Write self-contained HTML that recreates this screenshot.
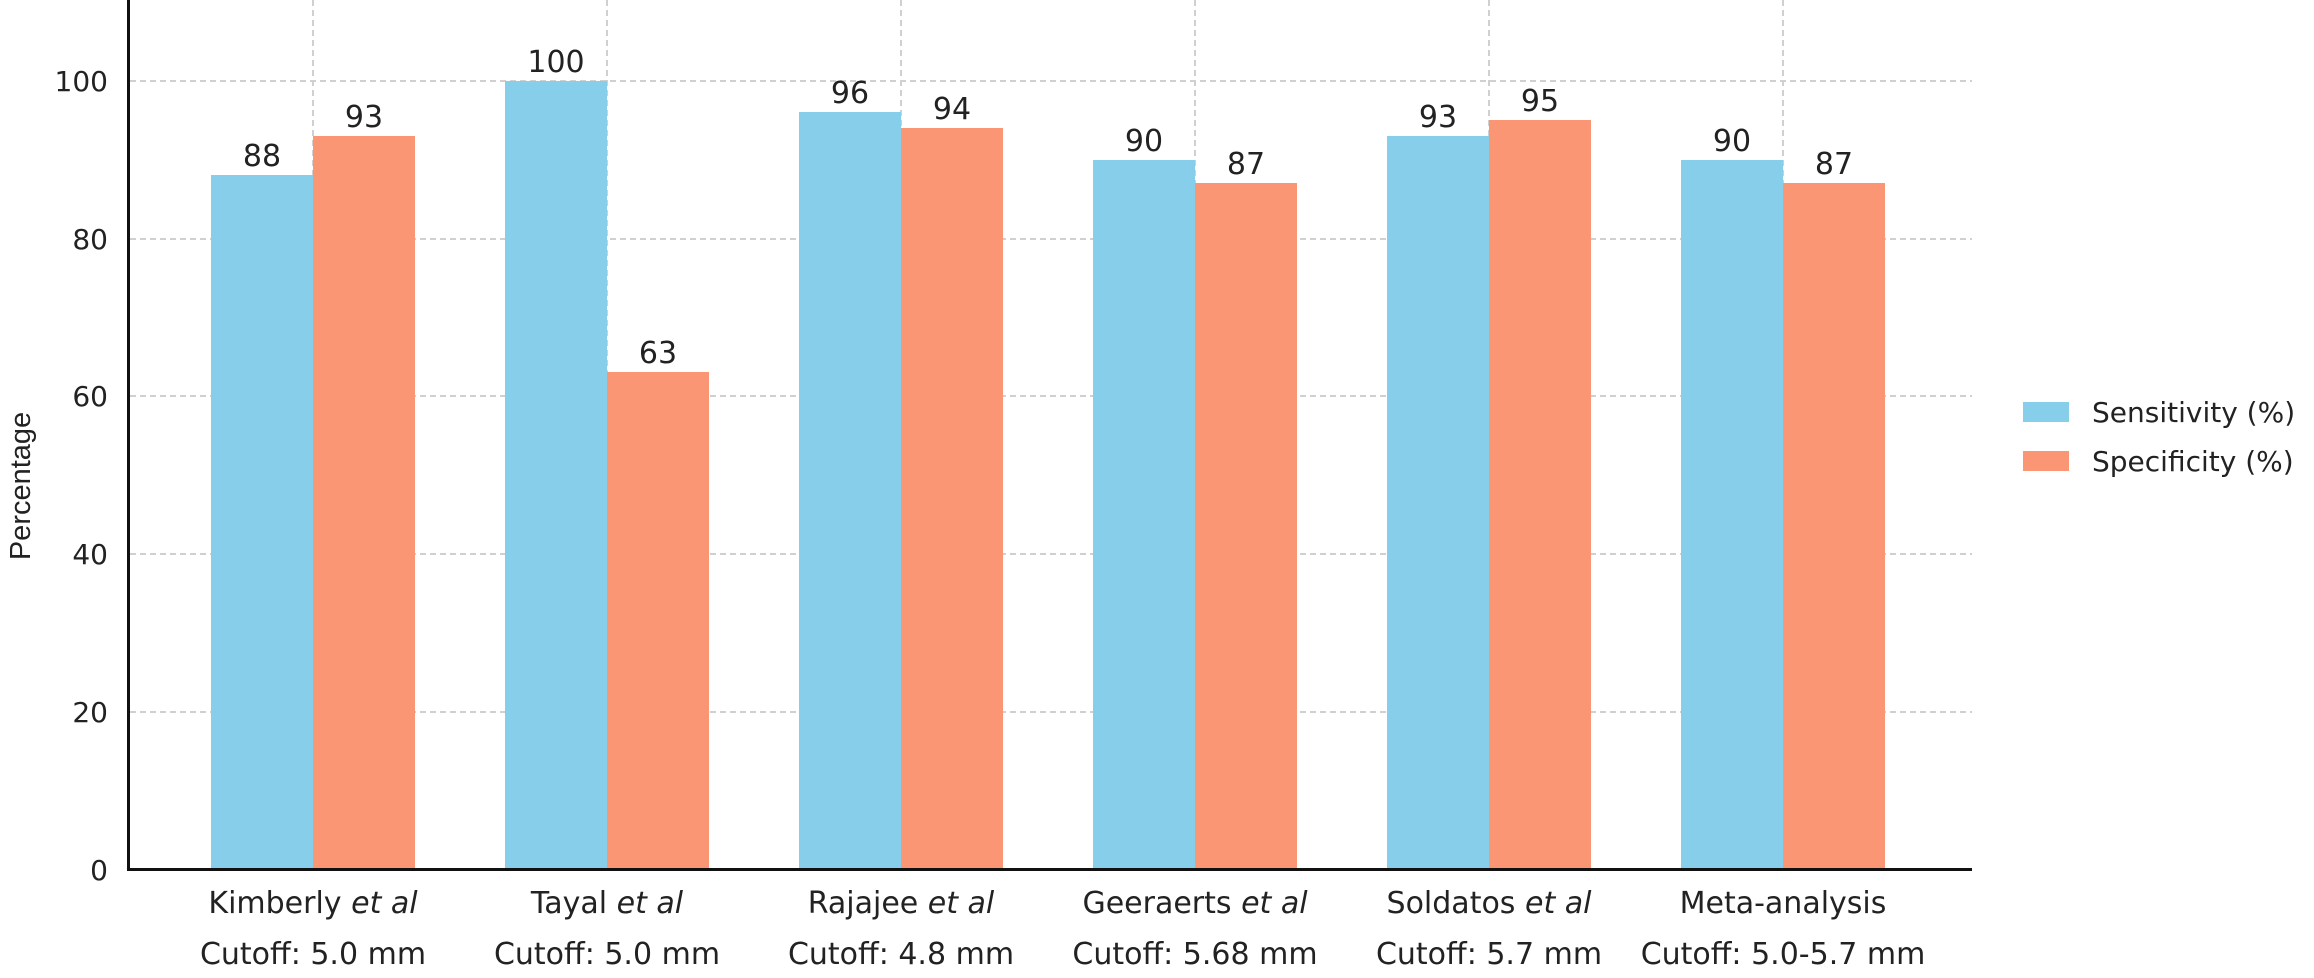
<!DOCTYPE html>
<html><head><meta charset="utf-8"><style>
html,body{margin:0;padding:0;background:#fff;}
svg text{font-family:"DejaVu Sans","Liberation Sans",sans-serif;fill:#222;}
</style></head><body>
<svg width="2314" height="973" viewBox="0 0 2314 973" xmlns="http://www.w3.org/2000/svg">
<g stroke="#d0d0d0" stroke-width="2" stroke-dasharray="6,4">
<line x1="130" y1="712" x2="1972" y2="712"/>
<line x1="130" y1="554" x2="1972" y2="554"/>
<line x1="130" y1="396" x2="1972" y2="396"/>
<line x1="130" y1="239" x2="1972" y2="239"/>
<line x1="130" y1="81" x2="1972" y2="81"/>
<line x1="313" y1="0" x2="313" y2="869"/>
<line x1="607" y1="0" x2="607" y2="869"/>
<line x1="901" y1="0" x2="901" y2="869"/>
<line x1="1195" y1="0" x2="1195" y2="869"/>
<line x1="1489" y1="0" x2="1489" y2="869"/>
<line x1="1783" y1="0" x2="1783" y2="869"/>
</g>
<g fill="#87ceeb">
<rect x="211" y="175" width="102" height="694"/>
<rect x="505" y="81" width="102" height="788"/>
<rect x="799" y="112" width="102" height="757"/>
<rect x="1093" y="160" width="102" height="709"/>
<rect x="1387" y="136" width="102" height="733"/>
<rect x="1681" y="160" width="102" height="709"/>
</g>
<g fill="#fa9673">
<rect x="313" y="136" width="102" height="733"/>
<rect x="607" y="372" width="102" height="497"/>
<rect x="901" y="128" width="102" height="741"/>
<rect x="1195" y="183" width="102" height="686"/>
<rect x="1489" y="120" width="102" height="749"/>
<rect x="1783" y="183" width="102" height="686"/>
</g>
<line x1="128.5" y1="0" x2="128.5" y2="870" stroke="#111" stroke-width="3"/>
<line x1="127" y1="869.5" x2="1972" y2="869.5" stroke="#111" stroke-width="3"/>
<g font-size="30" text-anchor="middle">
<text x="262" y="166">88</text><text x="364" y="127">93</text>
<text x="556" y="72">100</text><text x="658" y="363">63</text>
<text x="850" y="103">96</text><text x="952" y="119">94</text>
<text x="1144" y="151">90</text><text x="1246" y="174">87</text>
<text x="1438" y="127">93</text><text x="1540" y="111">95</text>
<text x="1732" y="151">90</text><text x="1834" y="174">87</text>
</g>
<g font-size="28" text-anchor="end">
<text x="108" y="880">0</text><text x="108" y="722">20</text><text x="108" y="564">40</text>
<text x="108" y="406">60</text><text x="108" y="249">80</text><text x="108" y="91">100</text>
</g>
<text x="0" y="0" font-size="29" text-anchor="middle" transform="translate(30,486) rotate(-90)" style="font-family:'Liberation Sans',sans-serif">Percentage</text>
<g font-size="30" text-anchor="middle">
<text x="313" y="913">Kimberly <tspan font-style="italic">et al</tspan></text>
<text x="313" y="964">Cutoff: 5.0 mm</text>
<text x="607" y="913">Tayal <tspan font-style="italic">et al</tspan></text>
<text x="607" y="964">Cutoff: 5.0 mm</text>
<text x="901" y="913">Rajajee <tspan font-style="italic">et al</tspan></text>
<text x="901" y="964">Cutoff: 4.8 mm</text>
<text x="1195" y="913">Geeraerts <tspan font-style="italic">et al</tspan></text>
<text x="1195" y="964">Cutoff: 5.68 mm</text>
<text x="1489" y="913">Soldatos <tspan font-style="italic">et al</tspan></text>
<text x="1489" y="964">Cutoff: 5.7 mm</text>
<text x="1783" y="913">Meta-analysis</text>
<text x="1783" y="964">Cutoff: 5.0-5.7 mm</text>
</g>
<rect x="2023" y="402" width="46" height="20" fill="#87ceeb"/>
<rect x="2023" y="451" width="46" height="20" fill="#fa9673"/>
<g font-size="28">
<text x="2092" y="422">Sensitivity (%)</text>
<text x="2092" y="471">Specificity (%)</text>
</g>
</svg>
</body></html>
